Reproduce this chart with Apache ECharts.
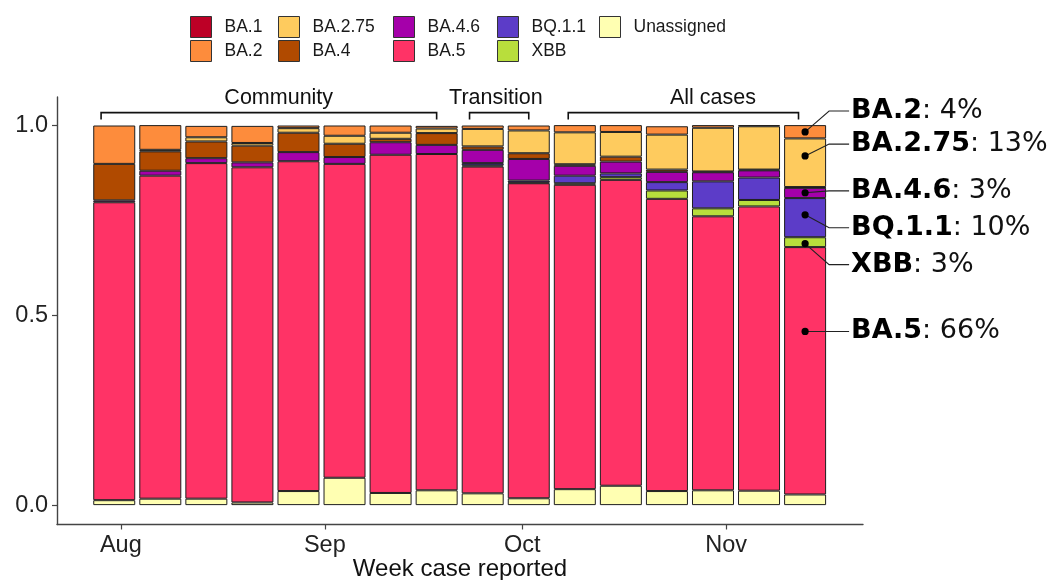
<!DOCTYPE html>
<html><head><meta charset="utf-8">
<script src="https://cdn.jsdelivr.net/npm/echarts@6/dist/echarts.min.js"></script>
<style>html,body{margin:0;padding:0;background:#fff}#chart{width:1054px;height:580px}</style>
</head><body><div id="chart"></div>
<script>
// ---- data ----
const weeks = ['2022-07-31','2022-08-07','2022-08-14','2022-08-21','2022-08-28','2022-09-04','2022-09-11','2022-09-18',
               '2022-09-25','2022-10-02','2022-10-09','2022-10-16','2022-10-23','2022-10-30','2022-11-06','2022-11-13'];
const Unassigned = [0.013,0.017,0.017,0.007,0.037,0.072,0.032,0.039,0.031,0.018,0.042,0.051,0.037,0.039,0.038,0.028];
const BA_5       = [0.784,0.850,0.883,0.882,0.868,0.826,0.890,0.885,0.860,0.829,0.801,0.805,0.769,0.721,0.748,0.651];
const XBB        = [0,0,0,0,0,0,0,0,0.003,0.002,0.004,0.007,0.022,0.021,0.017,0.026];
const BQ_1_1     = [0,0,0,0,0,0,0,0,0.006,0.005,0.020,0.010,0.022,0.071,0.059,0.103];
const BA_4_6     = [0.005,0.013,0.013,0.013,0.024,0.018,0.033,0.024,0.035,0.057,0.026,0.031,0.027,0.024,0.019,0.027];
const BA_4       = [0.096,0.051,0.044,0.044,0.051,0.035,0.009,0.031,0.009,0.015,0.004,0.013,0.006,0.002,0.002,0.002];
const BA_2_75    = [0,0.004,0.011,0.007,0.012,0.021,0.016,0.012,0.046,0.060,0.084,0.065,0.092,0.115,0.114,0.128];
const BA_2       = [0.101,0.065,0.030,0.045,0.007,0.027,0.019,0.007,0.009,0.013,0.019,0.018,0.022,0.007,0.003,0.035];
const BA_1       = [0,0,0,0,0,0,0,0,0,0,0,0,0,0,0,0];

const monthTicks = ['2022-08-01','2022-09-01','2022-10-01','2022-11-01'];
const monthLabels = ['Aug','Sep','Oct','Nov'];
const yTicks = [0, 0.5, 1];

const periodNames = ['Community','Transition','All cases'];
const periodFrom  = ['2022-07-29','2022-09-23','2022-10-08'];
const periodTo    = ['2022-09-18','2022-10-02','2022-11-12'];
const periodLabelAt = ['2022-08-25','2022-09-27','2022-10-30'];

const latestNames = ['BA.2','BA.2.75','BA.4.6','BQ.1.1','XBB','BA.5'];
const latestPct   = [4, 13, 3, 10, 3, 66];

// ---- styling / layout ----
const stackOrder = [ // bottom -> top
  ['Unassigned', Unassigned, '#FFFFB2'],
  ['BA.5', BA_5, '#FF3366'],
  ['XBB', XBB, '#B8DE3C'],
  ['BQ.1.1', BQ_1_1, '#5C3CC8'],
  ['BA.4.6', BA_4_6, '#A500AA'],
  ['BA.4', BA_4, '#B04A00'],
  ['BA.2.75', BA_2_75, '#FECB5E'],
  ['BA.2', BA_2, '#FD8C3C'],
  ['BA.1', BA_1, '#BD0026']
];
// annotation anchor (dot) and label heights, in axis units
const dotYPos   = {'BA.2':0.982,'BA.2.75':0.919,'BA.4.6':0.822,'BQ.1.1':0.764,'XBB':0.688,'BA.5':0.457};
const labelYPos = {'BA.2':1.037,'BA.2.75':0.950,'BA.4.6':0.827,'BQ.1.1':0.730,'XBB':0.633,'BA.5':0.457};

// days since first week
const T0 = Date.UTC(2022, 6, 31);
function day(s){ const p = s.split('-').map(Number); return (Date.UTC(p[0], p[1]-1, p[2]) - T0) / 86400000; }
const weekDays = weeks.map(day);
const monthDays = monthTicks.map(day);
const lastIdx = weeks.length - 1;

const SANS = '"Liberation Sans", Arial, sans-serif';
const DEJAVU = '"DejaVu Sans", Verdana, sans-serif';
const BORDER = '#1e1e1e';

const barSeries = stackOrder.map(([name, vals, color]) => ({
  name, type: 'bar', stack: 'share', barWidth: 42,
  encode: { x: 1, y: 0 },
  itemStyle: { color, borderColor: BORDER, borderWidth: 1 },
  emphasis: { disabled: true },
  data: vals.map((v, i) => [v > 0 ? v : '-', weekDays[i]])
}));

const annotData = latestNames.map((n) => [weekDays[lastIdx], dotYPos[n], labelYPos[n]]);
const bracketData = periodNames.map((n, i) => [day(periodFrom[i]), day(periodTo[i]), day(periodLabelAt[i])]);

const legendCols = [['BA.1','BA.2'],['BA.2.75','BA.4'],['BA.4.6','BA.5'],['BQ.1.1','XBB'],['Unassigned']];
const legendLeft = [190, 278, 393, 497, 599];

const option = {
  animation: false,
  backgroundColor: '#fff',
  grid: { left: 57, right: 191, top: 97, bottom: 55.5, containLabel: false, outerBoundsMode: 'none' },
  legend: legendCols.map((col, k) => ({
    data: col, orient: 'vertical', left: legendLeft[k], top: 16, padding: 0,
    itemWidth: 21, itemHeight: 21, itemGap: 2, icon: 'rect', selectedMode: false,
    itemStyle: { borderColor: '#333', borderWidth: 1 },
    textStyle: { fontFamily: SANS, fontSize: 17.5, color: '#1a1a1a', padding: [0, 0, 0, 8] }
  })),
  xAxis: {
    type: 'value', min: -8.7, max: 113.8,
    splitLine: { show: false },
    axisLine: { show: true, onZero: false, lineStyle: { color: '#444', width: 1.4 } },
    axisTick: { show: true, length: 5, customValues: monthDays, lineStyle: { color: '#444', width: 1.2 } },
    axisLabel: { customValues: monthDays, margin: 9, fontFamily: SANS, fontSize: 23.5, color: '#222',
      formatter: v => monthLabels[monthDays.indexOf(v)] },
    name: 'Week case reported', nameLocation: 'middle', nameGap: 33, nameMoveOverlap: false,
    nameTextStyle: { fontFamily: SANS, fontSize: 24, color: '#111' }
  },
  yAxis: {
    type: 'value', min: -0.051, max: 1.074,
    splitLine: { show: false },
    axisLine: { show: true, onZero: false, lineStyle: { color: '#444', width: 1.4 } },
    axisTick: { show: true, length: 5, customValues: yTicks, lineStyle: { color: '#444', width: 1.2 } },
    axisLabel: { customValues: yTicks, margin: 9, fontFamily: SANS, fontSize: 23.5, color: '#222',
      formatter: v => v.toFixed(1) }
  },
  series: barSeries.concat([
    {
      type: 'custom', name: 'periods', clip: false, silent: true, z: 5,
      data: bracketData,
      renderItem: (params, api) => {
        const a = api.coord([api.value(0), 1.033]);
        const b = api.coord([api.value(1), 1.033]);
        const yb = api.coord([api.value(0), 1.015])[1];
        const t = api.coord([api.value(2), 1.071]);
        return { type: 'group', children: [
          { type: 'polyline', shape: { points: [[a[0], yb], [a[0], a[1]], [b[0], b[1]], [b[0], yb]] },
            style: { stroke: '#111', lineWidth: 1.6, fill: null } },
          { type: 'text', x: t[0], y: t[1], style: { text: periodNames[params.dataIndex], fontFamily: SANS,
            fontSize: 21.5, fill: '#111', align: 'center', verticalAlign: 'middle' } }
        ]};
      }
    },
    {
      type: 'custom', name: 'latest', clip: false, silent: true, z: 6,
      data: annotData,
      renderItem: (params, api) => {
        const i = params.dataIndex;
        const p = api.coord([api.value(0), api.value(1)]);
        const ly = api.coord([api.value(0), api.value(2)])[1];
        const ex = p[0] + 24, lx = p[0] + 44, tx = p[0] + 46;
        return { type: 'group', children: [
          { type: 'polyline', shape: { points: [[p[0], p[1]], [ex, ly], [lx, ly]] },
            style: { stroke: '#222', lineWidth: 1.1, fill: null } },
          { type: 'circle', shape: { cx: p[0], cy: p[1], r: 3.6 }, style: { fill: '#000' } },
          { type: 'text', x: tx, y: ly, style: {
              text: '{b|' + latestNames[i] + '}{r|: ' + latestPct[i] + '%}',
              align: 'left', verticalAlign: 'middle',
              rich: {
                b: { fontFamily: DEJAVU, fontWeight: 'bold', fontSize: 27, fill: '#000' },
                r: { fontFamily: DEJAVU, fontSize: 27, fill: '#111' }
              } } }
        ]};
      }
    }
  ])
};
const chart = echarts.init(document.getElementById('chart'), null, { renderer: 'canvas' });
chart.setOption(option);
</script></body></html>
